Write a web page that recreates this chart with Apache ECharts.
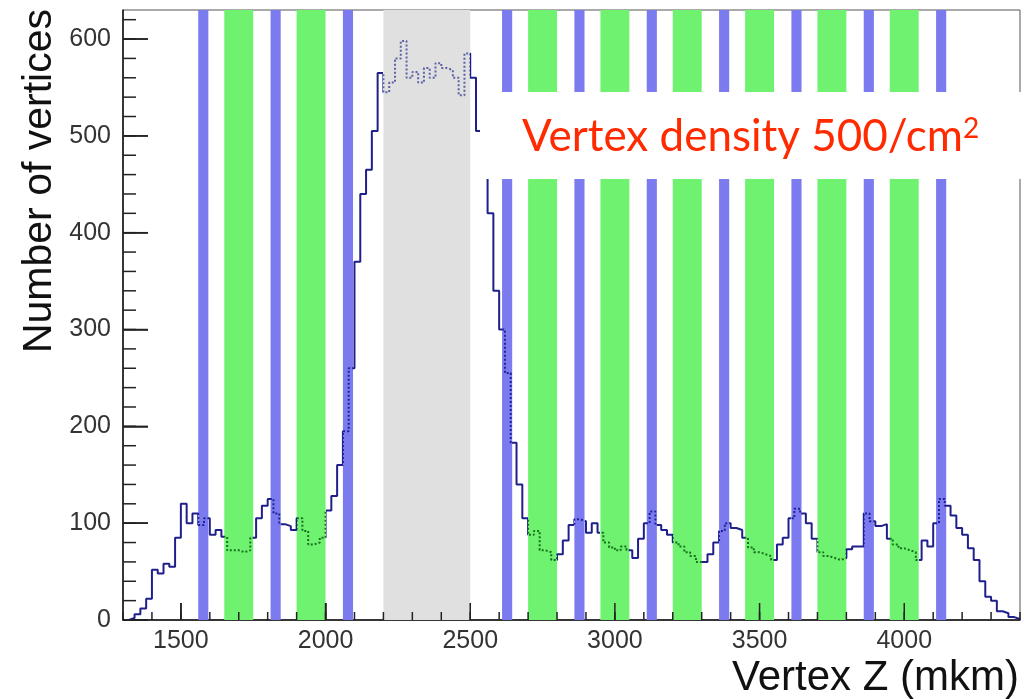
<!DOCTYPE html>
<html>
<head>
<meta charset="utf-8">
<title>Vertex Z</title>
<script src="https://cdn.jsdelivr.net/npm/echarts@6/dist/echarts.min.js"></script>
<style>
html, body { margin: 0; padding: 0; background: #fff; }
#chart { width: 1024px; height: 699px; }
</style>
</head>
<body>
<div id="chart"></div>
<script>
// histogram of vertex Z, 20 mkm bins starting at 1300
const binStart = 1300
const binWidth = 20
const counts = [
    0, 2, 6, 12, 22, 52, 48, 58, 55, 85,
    120, 100, 110, 98, 105, 88, 93, 86, 72, 72,
    70, 72, 85, 105, 118, 125, 110, 99, 97, 93,
    105, 92, 78, 80, 85, 113, 128, 160, 195, 260,
    370, 440, 465, 505, 565, 545, 555, 580, 598, 560,
    566, 555, 570, 560, 575, 570, 568, 560, 542, 585,
    560, 505, 470, 420, 340, 300, 255, 183, 140, 105,
    88, 92, 72, 70, 62, 68, 82, 98, 104, 102,
    90, 100, 90, 80, 75, 72, 76, 72, 64, 84,
    100, 112, 98, 93, 88, 80, 76, 70, 66, 60,
    60, 68, 80, 92, 100, 95, 93, 85, 75, 70,
    68, 66, 62, 78, 85, 105, 115, 110, 100, 84,
    70, 66, 64, 62, 64, 73, 76, 76, 110, 102,
    97, 99, 84, 78, 74, 72, 70, 62, 82, 76,
    100, 125, 118, 108, 95, 88, 74, 62, 40, 24,
    20, 9, 7, 3, 1
]

// detector regions (mkm)
const blueBands = [[1560, 1595], [1810, 1845], [2060, 2095], [2610, 2645], [2860, 2895],
    [3110, 3145], [3360, 3395], [3610, 3645], [3860, 3895], [4110, 4145]]
const greenBands = [[1650, 1750], [1900, 2000], [2700, 2800], [2950, 3050], [3200, 3300],
    [3450, 3550], [3700, 3800], [3950, 4050]]
const grayBands = [[2200, 2500]]

const xMajorTicks = [1500, 2000, 2500, 3000, 3500, 4000]
const yMajorTicks = [0, 100, 200, 300, 400, 500, 600]
const xMinorStep = 100
const yMinorStep = 20

const xMin = 1300
const xMax = 4400
const yMax = 630

// bin edges -> step points
const histData = counts.map((v, i) => [binStart + i * binWidth, v])
histData.push([binStart + counts.length * binWidth, counts[counts.length - 1]])

const bandColors = { blue: '#7b7bef', green: '#6ff26f', gray: '#e0e0e0' }
const lineInBand = { blue: '#20209a', green: '#16701c', gray: '#5a62a6' }

const allBands = []
blueBands.forEach(b => allBands.push({ r: b, k: 'blue' }))
greenBands.forEach(b => allBands.push({ r: b, k: 'green' }))
grayBands.forEach(b => allBands.push({ r: b, k: 'gray' }))
allBands.sort((a, b) => a.r[0] - b.r[0])

// visualMap pieces: colour of the line inside / outside the bands
const makePieces = (outside, inside) => {
    const pieces = []
    let cur = xMin - 100
    allBands.forEach(b => {
        pieces.push({ gte: cur, lt: b.r[0], color: outside })
        pieces.push({ gte: b.r[0], lt: b.r[1], color: inside(b.k) })
        cur = b.r[1]
    })
    pieces.push({ gte: cur, lte: xMax + 100, color: outside })
    return pieces
}

// ROOT style inner ticks: [x, y, length, isYAxis]
const tickItems = []
for (let v = xMin; v <= xMax; v += xMinorStep) tickItems.push([v, 0, 8, 0])
xMajorTicks.forEach(v => tickItems.push([v, 0, 17, 0]))
for (let v = 0; v < yMax; v += yMinorStep) tickItems.push([xMin, v, 13, 1])
yMajorTicks.forEach(v => tickItems.push([xMin, v, 25, 1]))

const clear = 'rgba(0,0,0,0)'
const font = '"Liberation Sans", Arial, sans-serif'
const plain = v => String(v)

const chart = echarts.init(document.getElementById('chart'))
chart.setOption({
    animation: false,
    grid: {
        left: 123, right: 4, top: 10, bottom: 79,
        show: true, borderColor: '#555', borderWidth: 1
    },
    xAxis: [{
        type: 'value', min: xMin, max: xMax, interval: 100, position: 'bottom',
        axisLine: { lineStyle: { color: '#111', width: 1.5 } },
        axisTick: { show: true, inside: true, length: 17, customValues: xMajorTicks, lineStyle: { color: '#222', width: 1.5 } },
        axisLabel: { customValues: xMajorTicks, formatter: plain, fontSize: 25, fontFamily: font, color: '#333', margin: 9 },
        splitLine: { show: false }
    }],
    yAxis: [{
        type: 'value', min: 0, max: yMax, interval: 100, position: 'left',
        axisLine: { show: true, lineStyle: { color: '#111', width: 1.5 } },
        axisTick: { show: true, inside: true, length: 25, customValues: yMajorTicks, lineStyle: { color: '#222', width: 1.5 } },
        axisLabel: { customValues: yMajorTicks, formatter: plain, fontSize: 25, fontFamily: font, color: '#333', margin: 12 },
        splitLine: { show: false }
    }],
    visualMap: [{
        type: 'piecewise', show: false, dimension: 0, seriesIndex: 0,
        pieces: makePieces('#1f1f8c', () => clear)
    }, {
        type: 'piecewise', show: false, dimension: 0, seriesIndex: 1,
        pieces: makePieces(clear, k => lineInBand[k])
    }],
    series: [{
        name: 'vertices',
        type: 'line',
        step: 'end',
        symbol: 'none',
        data: histData,
        lineStyle: { width: 2 },
        markArea: {
            silent: true,
            data: allBands.map(b => [
                { xAxis: b.r[0], itemStyle: { color: bandColors[b.k] } },
                { xAxis: b.r[1] }
            ])
        },
        z: 2
    }, {
        name: 'vertices in bands',
        type: 'line',
        step: 'end',
        symbol: 'none',
        data: histData,
        lineStyle: { width: 2, type: 'dotted' },
        z: 3
    }, {
        name: 'ticks',
        type: 'custom',
        silent: true,
        clip: false,
        z: 4,
        data: tickItems,
        encode: { x: 0, y: 1 },
        renderItem: (params, api) => {
            const p = api.coord([api.value(0), api.value(1)])
            const len = api.value(2)
            const shape = api.value(3) === 1
                ? { x1: p[0], y1: p[1], x2: p[0] + len, y2: p[1] }
                : { x1: p[0], y1: p[1], x2: p[0], y2: p[1] - len }
            return { type: 'line', shape: shape, style: { stroke: '#222', lineWidth: 1.5 } }
        }
    }],
    graphic: [{
        type: 'text', x: 40, y: 9, rotation: Math.PI / 2,
        style: { text: 'Number of vertices', font: '41px ' + font, fill: '#111', align: 'right', verticalAlign: 'middle' }
    }, {
        type: 'text', x: 1019, y: 678,
        style: { text: 'Vertex Z (mkm)', font: '42px ' + font, fill: '#111', align: 'right', verticalAlign: 'middle' }
    }, {
        type: 'rect', z: 100,
        shape: { x: 480, y: 92, width: 544, height: 87 },
        style: { fill: '#fff' }
    }, {
        type: 'text', z: 101, x: 522, y: 137,
        style: {
            text: '{a|Vertex density 500/cm}{s|2}',
            verticalAlign: 'middle',
            rich: {
                a: { fontSize: 44, fontFamily: 'Lato', fill: '#ff2a00' },
                s: { fontSize: 28, fontFamily: 'Lato', fill: '#ff2a00', verticalAlign: 'top' }
            }
        }
    }]
})
</script>
</body>
</html>
